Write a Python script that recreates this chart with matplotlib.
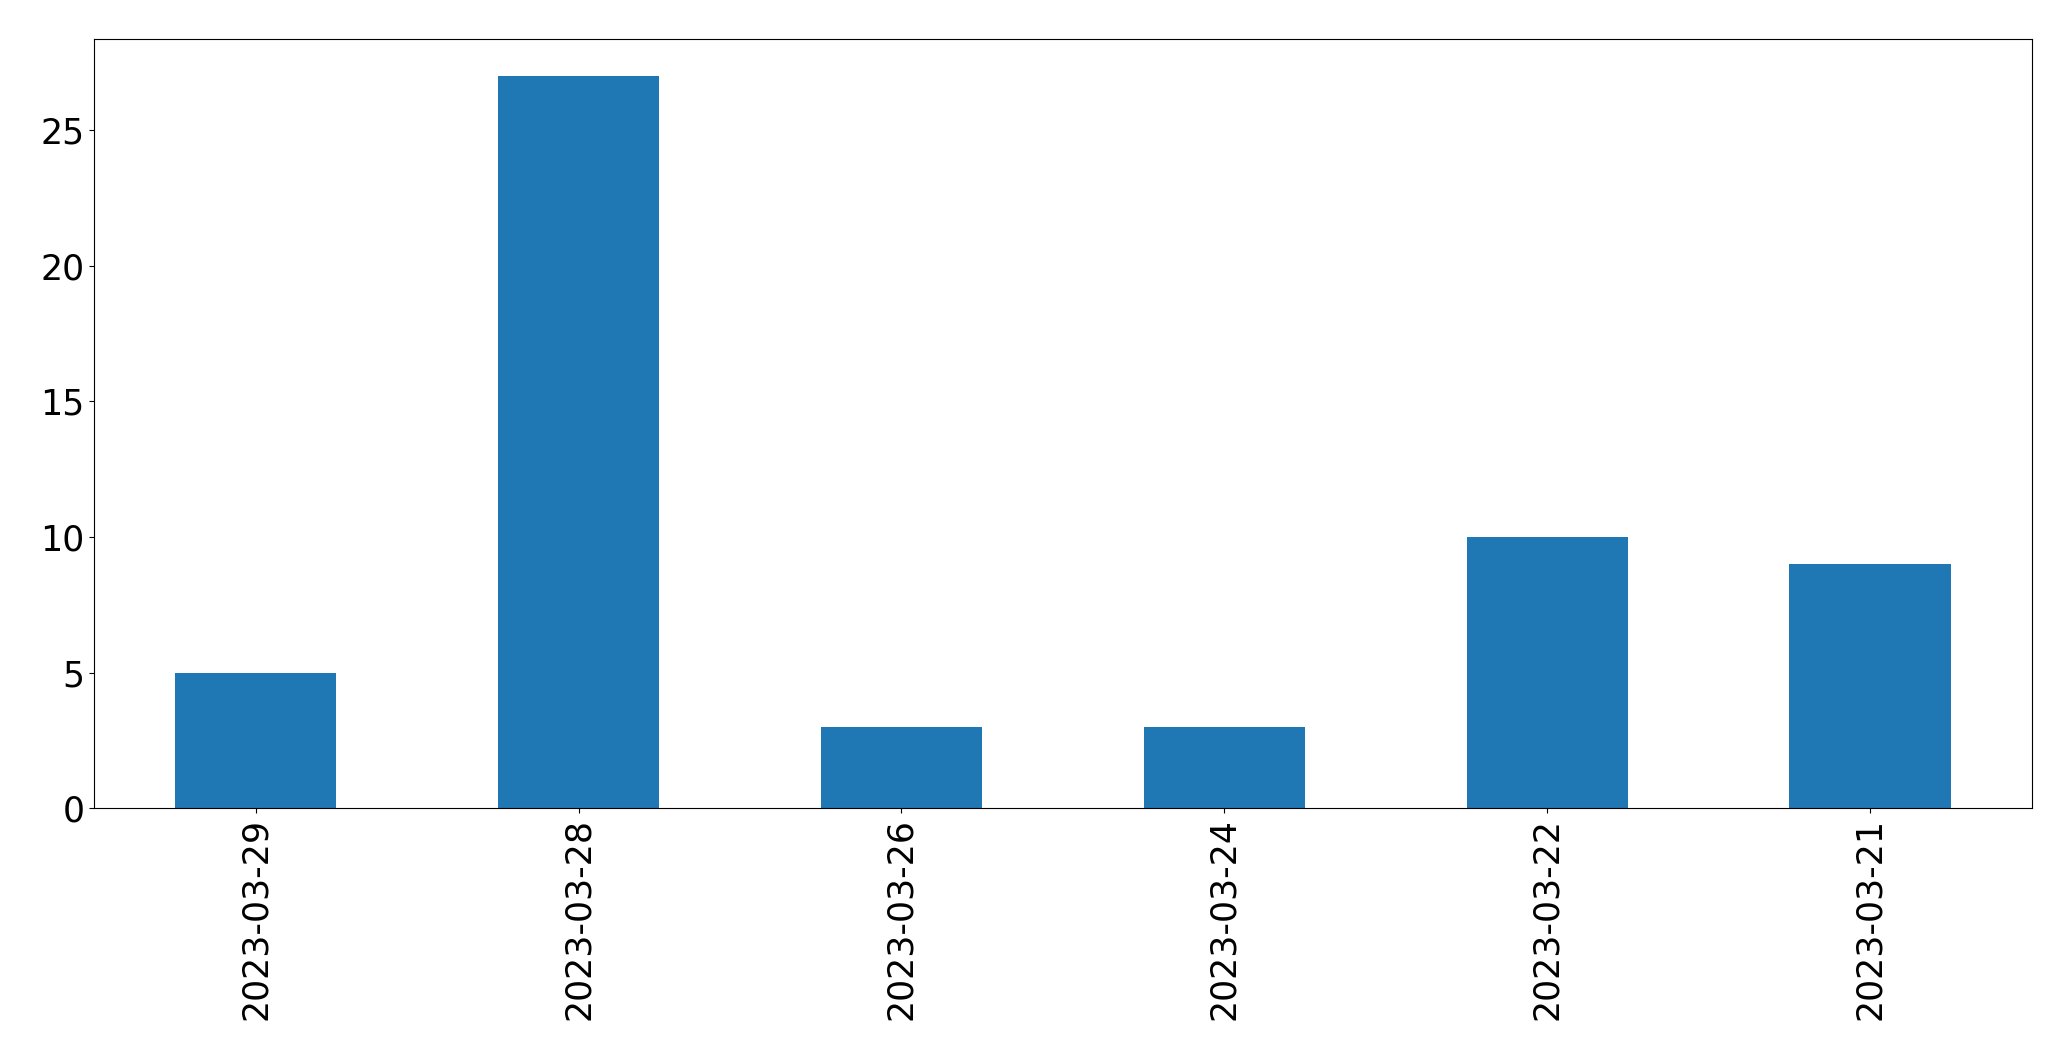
import matplotlib
matplotlib.use("Agg")
import matplotlib.pyplot as plt
import pandas as pd

dates = ["2023-03-29", "2023-03-28", "2023-03-26", "2023-03-24", "2023-03-22", "2023-03-21"]
counts = [5, 27, 3, 3, 10, 9]

s = pd.Series(counts, index=dates)

fig, ax = plt.subplots(figsize=(20.71, 10.61), dpi=100)
s.plot.bar(ax=ax, color="#1f77b4")
ax.tick_params(axis="both", labelsize=25)
fig.subplots_adjust(left=0.0455, right=0.981, top=0.963, bottom=0.238)
fig.savefig("out.png", dpi=100)
